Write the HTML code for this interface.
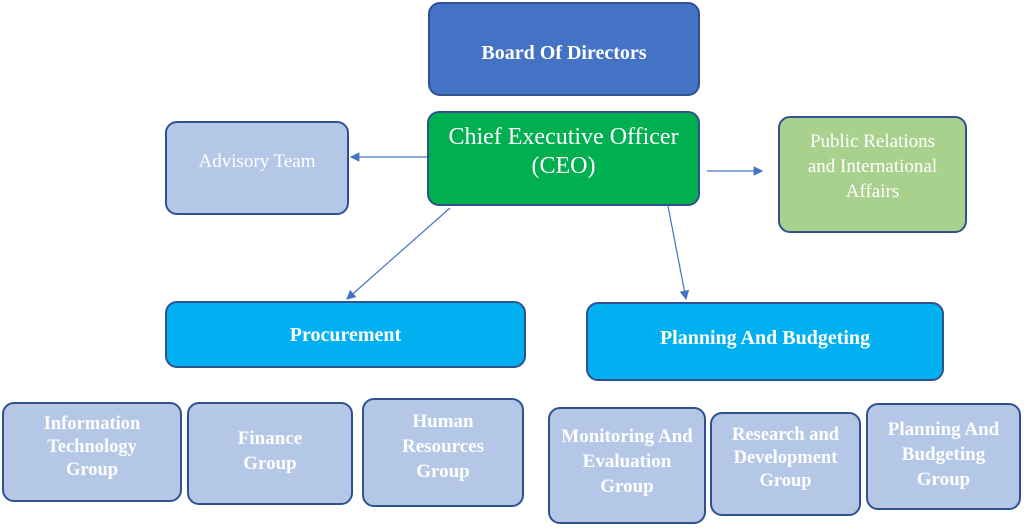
<!DOCTYPE html>
<html><head><meta charset="utf-8"><style>
body{margin:0;width:1024px;height:529px;background:#fff;position:relative;overflow:hidden;font-family:"Liberation Serif",serif;}
.b{position:absolute;box-sizing:border-box;border:2px solid #2F528F;border-radius:12px;display:flex;align-items:center;justify-content:center;text-align:center;color:#fff;line-height:1.2;}
.bold{font-weight:bold;}
.lb{background:#B4C7E7;}
</style></head><body>
<div class="b bold" style="left:428px;top:2px;width:272px;height:94px;background:#4472C4;font-size:20px;padding-top:8px;">Board Of Directors</div>
<div class="b" style="left:427px;top:111px;width:273px;height:95px;background:#00B050;font-size:24px;line-height:29px;padding-bottom:14px;">Chief Executive Officer<br>(CEO)</div>
<div class="b lb" style="left:165px;top:121px;width:184px;height:94px;font-size:19px;padding-bottom:12px;">Advisory Team</div>
<div class="b" style="left:778px;top:116px;width:189px;height:117px;background:#A9D18E;font-size:19px;line-height:25px;padding-bottom:16px;">Public Relations<br>and International<br>Affairs</div>
<div class="b bold" style="left:165px;top:301px;width:361px;height:67px;background:#00B0F0;font-size:20px;">Procurement</div>
<div class="b bold" style="left:586px;top:302px;width:358px;height:79px;background:#00B0F0;font-size:20px;padding-bottom:7px;">Planning And Budgeting</div>
<div class="b lb bold" style="left:2px;top:402px;width:180px;height:100px;font-size:18.5px;line-height:23px;padding-bottom:10px;">Information<br>Technology<br>Group</div>
<div class="b lb bold" style="left:187px;top:402px;width:166px;height:103px;font-size:19px;line-height:25px;padding-bottom:6px;">Finance<br>Group</div>
<div class="b lb bold" style="left:362px;top:398px;width:162px;height:109px;font-size:19px;line-height:25px;padding-bottom:12px;">Human<br>Resources<br>Group</div>
<div class="b lb bold" style="left:548px;top:407px;width:158px;height:117px;font-size:19px;line-height:25px;padding-bottom:8px;">Monitoring And<br>Evaluation<br>Group</div>
<div class="b lb bold" style="left:710px;top:412px;width:151px;height:104px;font-size:18.5px;line-height:23px;padding-bottom:12px;">Research and<br>Development<br>Group</div>
<div class="b lb bold" style="left:866px;top:403px;width:155px;height:107px;font-size:19px;line-height:25px;padding-bottom:4px;">Planning And<br>Budgeting<br>Group</div>
<svg width="1024" height="529" style="position:absolute;left:0;top:0;">
<defs><marker id="a" markerWidth="8" markerHeight="8" refX="7" refY="4" orient="auto"><path d="M0,0 L8,4 L0,8 z" fill="#4472C4"/></marker></defs>
<g stroke="#4472C4" stroke-width="1.2" fill="none" marker-end="url(#a)">
<line x1="427" y1="157" x2="351" y2="157"/>
<line x1="707" y1="171" x2="762" y2="171"/>
<line x1="450" y1="208" x2="347" y2="299"/>
<line x1="668" y1="206" x2="686" y2="299"/>
</g></svg>
</body></html>
